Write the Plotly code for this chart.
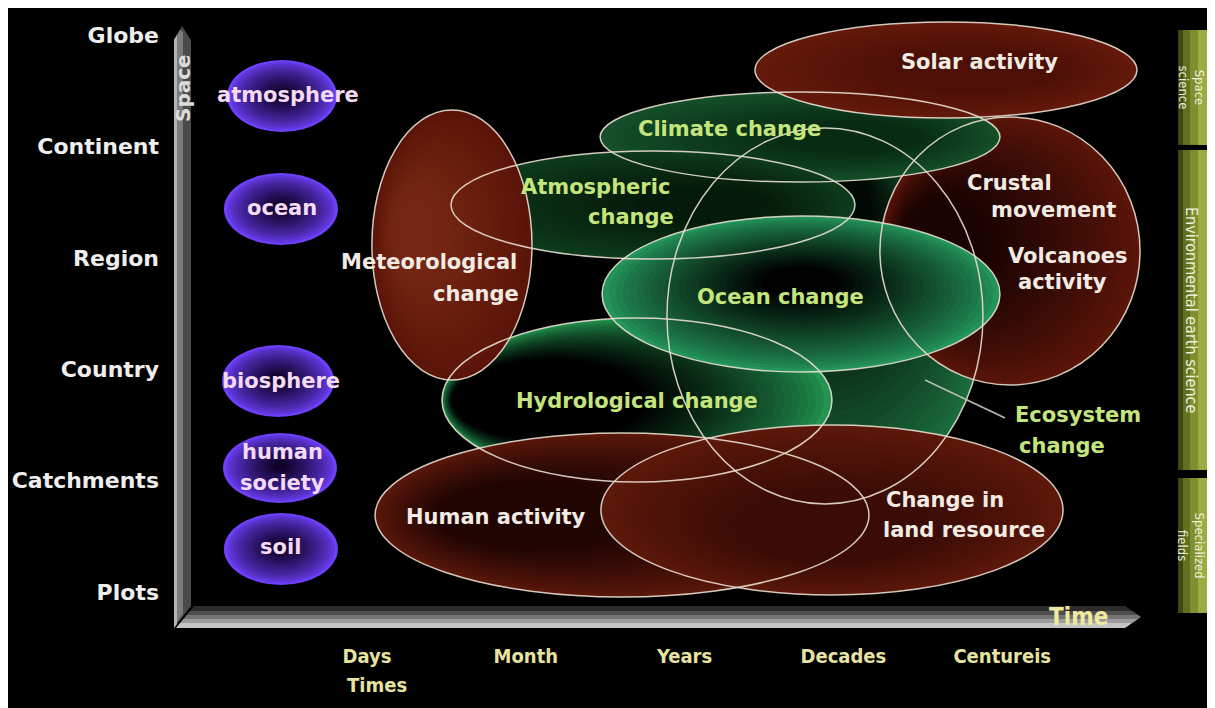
import plotly.graph_objects as go

# ------------------------------------------------------------------ data
space_levels = ["Plots", "Catchments", "Country", "Region", "Continent", "Globe"]
time_levels = ["Days", "Month", "Years", "Decades", "Centureis"]

# purple "sphere" bubbles (time units, space units)
sphere_names = ["atmosphere", "ocean", "biosphere", "human society", "soil"]
sphere_t = [-0.535, -0.542, -0.560, -0.548, -0.542]
sphere_s = [4.452, 3.438, 1.894, 1.113, 0.386]
sphere_hw = [0.346, 0.359, 0.353, 0.359, 0.359]
sphere_hh = [0.323, 0.323, 0.323, 0.314, 0.323]

sphere_label_text = ["atmosphere", "ocean", "biosphere", "human", "society", "soil"]
sphere_label_t = [-0.497, -0.535, -0.542, -0.535, -0.535, -0.542]
sphere_label_s = [4.461, 3.447, 1.894, 1.257, 0.978, 0.404]

# process ellipses, listed bottom-to-top
proc_names = ["Ecosystem change", "Crustal movement", "Climate change", "Solar activity",
              "Atmospheric change", "Hydrological change", "Ocean change",
              "Meteorological change", "Human activity", "Change in land resource"]
proc_t = [2.884, 4.049, 2.727, 3.646, 1.801, 1.700, 2.733, 0.535, 1.606, 2.928]
proc_s = [2.478, 3.061, 4.084, 4.686, 3.474, 1.724, 2.675, 3.115, 0.691, 0.736]
proc_hw = [0.995, 0.819, 1.259, 1.203, 1.272, 1.228, 1.253, 0.504, 1.555, 1.455]
proc_hh = [1.688, 1.203, 0.404, 0.431, 0.485, 0.736, 0.700, 1.212, 0.736, 0.763]

# labels of the process ellipses (one entry per text line)
label_text = ["Solar activity", "Climate change", "Atmospheric", "change",
              "Meteorological", "change", "Ocean change", "Crustal", "movement",
              "Volcanoes", "activity", "Hydrological change", "Ecosystem", "change",
              "Human activity", "Change in", "land resource"]
label_t = [3.854, 2.280, 1.436, 1.662, 0.390, 0.686, 2.601, 4.049, 4.326,
           4.414, 4.377, 1.700, 4.477, 4.377, 0.812, 3.640, 3.759]
label_s = [4.758, 4.156, 3.636, 3.366, 2.962, 2.675, 2.648, 3.671, 3.429,
           3.016, 2.783, 1.715, 1.589, 1.311, 0.673, 0.826, 0.557]
label_group = ["white", "green", "green", "green", "white", "white", "green", "white",
               "white", "white", "white", "green", "green", "green", "white", "white", "white"]

# ecosystem pointer (dot -> label)
pointer_t = [3.514, 4.018]
pointer_s = [1.903, 1.562]

# discipline bands on the right (space-level extents)
field_names = ["Space<br>science", "Environmental earth science", "Specialized<br>fields"]
field_top = [5.045, 3.968, 1.023]
field_bottom = [4.013, 1.095, -0.189]

# ------------------------------------------------------------------ styles
FONT = "DejaVu Sans"
COND = "DejaVu Sans Condensed, Liberation Sans Narrow, DejaVu Sans"
T_RANGE = [-1.2531, 5.3904]
S_RANGE = [-0.395, 5.2424]
FIELD_FONT_SIZES = [13, 16, 13]

# gradient styles: outer colour, inner colour, inner-centre offset (fraction of half axes), inner scale, power
proc_style = {
    "Ecosystem change": ("#1b6c3c", "#020904", 0.0, 0.55, 0.3, 0.9),
    "Crustal movement": ("#5a1509", "#1a0302", -0.5, 0.05, 0.35, 0.9),
    "Climate change": ("#15502a", "#082c13", 0.25, 0.0, 0.35, 0.9),
    "Solar activity": ("#641a0b", "#4c1006", 0.15, 0.0, 0.4, 0.9),
    "Atmospheric change": ("#0f3c1d", "#041a0a", 0.25, 0.0, 0.3, 0.9),
    "Hydrological change": ("#229550", "#000000", -0.45, 0.0, 0.5, 0.75),
    "Ocean change": ("#24955a", "#000201", 0.0, 0.15, 0.2, 0.8),
    "Meteorological change": ("#5a1408", "#742612", -0.45, 0.1, 0.3, 0.9),
    "Human activity": ("#5a170a", "#200503", -0.35, 0.0, 0.4, 0.9),
    "Change in land resource": ("#5c180a", "#3a0c05", 0.0, -0.2, 0.4, 0.9),
}
sphere_style = ("#6e40fb", "#10032a", 0.0, 0.05, 0.12, 0.7)
OUTLINE = "rgba(232,222,208,0.9)"
LABEL_COLORS = {"white": "#f2ebe4", "green": "#c4e57c"}


def hex2rgb(h):
    h = h.lstrip("#")
    return tuple(int(h[i:i + 2], 16) for i in (0, 2, 4))


def mix(c1, c2, f):
    a, b = hex2rgb(c1), hex2rgb(c2)
    return "rgb(%d,%d,%d)" % tuple(round(a[i] + (b[i] - a[i]) * f) for i in range(3))


def gradient_ellipse(shapes, t, s, hw, hh, style, n=24):
    outer, inner, ot, os_, k, power = style
    for i in range(n):
        f = i / (n - 1)
        sc = 1 - f * (1 - k)
        ct = t + f * ot * hw
        cs = s + f * os_ * hh
        shapes.append(dict(type="circle", xref="x", yref="y", layer="above",
                           x0=ct - sc * hw, x1=ct + sc * hw, y0=cs - sc * hh, y1=cs + sc * hh,
                           fillcolor=mix(outer, inner, f ** power), line=dict(width=0)))


# pixel helpers for the decorative pseudo-3D axis arrows only
def tx(X):
    return (X - 367) / 158.8


def sy(Y):
    return (592 - Y) / 111.4


def path(points):
    return "M " + " L ".join("%.4f,%.4f" % (tx(x), sy(y)) for x, y in points) + " Z"


shapes = []

# vertical "Space" bar
shapes.append(dict(type="path", xref="x", yref="y", layer="above",
                   path=path([(174, 628), (174, 40), (182, 26), (191, 40), (191, 606)]),
                   fillcolor="#4a4a4a", line=dict(width=0)))
shapes.append(dict(type="path", xref="x", yref="y", layer="above",
                   path=path([(174, 626), (174, 40), (180, 30), (183, 32), (183, 614)]),
                   fillcolor="#7c7c7c", line=dict(width=0)))
shapes.append(dict(type="path", xref="x", yref="y", layer="above",
                   path=path([(174, 628), (174, 40), (177, 35), (177, 624)]),
                   fillcolor="#b4b4b4", line=dict(width=0)))


# horizontal "Time" bar in bands
def xl(Y):
    return 176 + (628 - Y) * 18 / 22


def xr(Y):
    return 1125 + ((Y - 606) if Y <= 617 else (628 - Y)) * 16 / 11


bands = [(606, 611, "#2c2c2c"), (611, 615, "#4e4e4e"), (615, 619, "#747474"),
         (619, 623, "#9c9c9c"), (623, 628, "#c4c4c4")]
for y0, y1, col in bands:
    pts = [(xl(y0), y0), (xr(y0), y0)]
    if y0 < 617 < y1:
        pts.append((1141, 617))
    pts += [(xr(y1), y1), (xl(y1), y1)]
    shapes.append(dict(type="path", xref="x", yref="y", layer="above", path=path(pts),
                       fillcolor=col, line=dict(width=0)))

# discipline bands (olive) on the right
olive_strips = [(1178, 1183, "#3e4712"), (1183, 1190, "#617020"), (1190, 1198, "#7f8e2e"),
                (1198, 1207, "#9cab44")]
for top, bot in zip(field_top, field_bottom):
    for x0, x1, col in olive_strips:
        shapes.append(dict(type="rect", xref="x", yref="y", layer="above",
                           x0=tx(x0), x1=tx(x1), y0=bot, y1=top,
                           fillcolor=col, line=dict(width=0)))

# purple sphere bubbles
for t, s, hw, hh in zip(sphere_t, sphere_s, sphere_hw, sphere_hh):
    gradient_ellipse(shapes, t, s, hw, hh, sphere_style, n=16)

# process ellipses (fills) then outlines on top
for name, t, s, hw, hh in zip(proc_names, proc_t, proc_s, proc_hw, proc_hh):
    gradient_ellipse(shapes, t, s, hw, hh, proc_style[name])
for t, s, hw, hh in zip(proc_t, proc_s, proc_hw, proc_hh):
    shapes.append(dict(type="circle", xref="x", yref="y", layer="above",
                       x0=t - hw, x1=t + hw, y0=s - hh, y1=s + hh,
                       fillcolor="rgba(0,0,0,0)", line=dict(color=OUTLINE, width=1.5)))

# ecosystem pointer
shapes.append(dict(type="line", xref="x", yref="y", layer="above",
                   x0=pointer_t[0], y0=pointer_s[0], x1=pointer_t[1], y1=pointer_s[1],
                   line=dict(color="#b8bcb0", width=1.6)))

fig = go.Figure()
fig.add_trace(go.Scatter(x=[pointer_t[0]], y=[pointer_s[0]], mode="markers",
                         marker=dict(size=7, color="#e4f4dc"), hoverinfo="skip"))

annotations = []
for txt, t, s, g in zip(label_text, label_t, label_s, label_group):
    annotations.append(dict(x=t, y=s, xref="x", yref="y", text=txt, showarrow=False,
                            xanchor="center", yanchor="middle",
                            font=dict(family=FONT, size=21, color=LABEL_COLORS[g], weight="bold")))
for txt, t, s in zip(sphere_label_text, sphere_label_t, sphere_label_s):
    annotations.append(dict(x=t, y=s, xref="x", yref="y", text=txt, showarrow=False,
                            xanchor="center", yanchor="middle",
                            font=dict(family=FONT, size=21, color="#f4daf4", weight="bold")))
for txt, top, bot, fs in zip(field_names, field_top, field_bottom, FIELD_FONT_SIZES):
    annotations.append(dict(x=tx(1191), y=(top + bot) / 2, xref="x", yref="y", text=txt,
                            showarrow=False, textangle=90, xanchor="center", yanchor="middle",
                            font=dict(family=COND, size=fs, color="#eef0dc")))
annotations.append(dict(x=tx(183), y=sy(88), xref="x", yref="y", text="Space", showarrow=False,
                        textangle=-90, font=dict(family=FONT, size=20, color="#dcdcdc", weight="bold")))
annotations.append(dict(x=tx(1078), y=sy(617), xref="x", yref="y", text="Time", showarrow=False,
                        font=dict(family=COND, size=24, color="#eeeaa0", weight="bold")))
annotations.append(dict(x=tx(345), y=-0.078, xref="x", yref="paper", text="Times", showarrow=False,
                        xanchor="left", yanchor="middle",
                        font=dict(family=COND, size=20, color="#e6e2a2", weight="bold")))

fig.update_layout(
    width=1215, height=708, autosize=False,
    margin=dict(l=160, r=0, t=0, b=80, pad=0),
    paper_bgcolor="black", plot_bgcolor="black", showlegend=False,
    shapes=shapes, annotations=annotations,
    xaxis=dict(range=T_RANGE, tickvals=list(range(len(time_levels))), ticktext=time_levels,
               showgrid=False, zeroline=False, showline=False, ticks="", ticklabelstandoff=6,
               tickfont=dict(family=COND, size=20, color="#e6e2a2", weight="bold"), fixedrange=True),
    yaxis=dict(range=S_RANGE, tickvals=list(range(len(space_levels))), ticktext=space_levels,
               showgrid=False, zeroline=False, showline=False, ticks="", ticklabelstandoff=8,
               tickfont=dict(family=FONT, size=22, color="#eeeeee", weight="bold"), fixedrange=True),
)

fig.write_html("out.html")
